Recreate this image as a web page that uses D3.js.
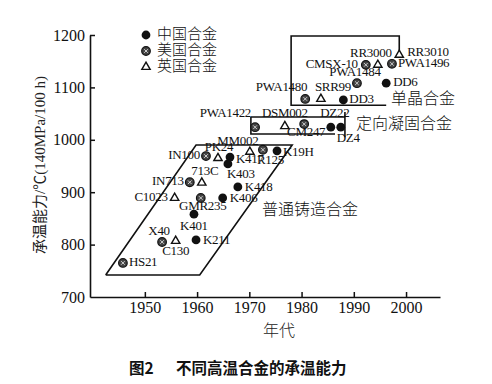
<!DOCTYPE html>
<html><head><meta charset="utf-8">
<script src="https://cdn.jsdelivr.net/npm/d3@7"></script>
<style>body{margin:0;background:#fff}svg{display:block}</style>
</head><body>
<script>
// ---- data ----
const xTicks = [1950, 1960, 1970, 1980, 1990, 2000];
const yTicks = [700, 800, 900, 1000, 1100, 1200];

const cnNames = ["DD3", "DD6", "DZ22", "DZ4", "K19H", "K417", "K403", "K418", "K406", "K401", "K211"];
const cnYears = [1988, 1996.2, 1985.6, 1987.5, 1975.3, 1966.3, 1965.9, 1967.8, 1964.9, 1959.4, 1959.8];
const cnTemps = [1076, 1108, 1024, 1024, 979, 967, 954, 910, 889, 858, 809];

const usNames = ["HS21", "X40", "GMR235", "IN713", "IN100", "R125", "PWA1422", "CM247", "PWA1480", "PWA1484", "CMSX-10", "PWA1496"];
const usYears = [1945.8, 1953.3, 1960.7, 1958.6, 1961.7, 1972.6, 1971.1, 1980.5, 1980.7, 1990.6, 1992.3, 1997.3];
const usTemps = [765, 805, 889, 919, 969, 981, 1024, 1030, 1078, 1108, 1143, 1145];

const ukNames = ["C130", "C1023", "713C", "PK24", "MM002", "DSM002", "SRR99", "RR3000", "RR3010"];
const ukYears = [1955.9, 1955.7, 1960.9, 1964, 1970.1, 1976.8, 1983.7, 1994.6, 1998.7];
const ukTemps = [807, 889, 918, 965, 977, 1026, 1078, 1143, 1162];

const legendLabels = ["中国合金", "美国合金", "英国合金"];
const regionLabels = ["单晶合金", "定向凝固合金", "普通铸造合金"];

// region outlines (data units)
const sxOutline = [[1998.7, 1169], [1998.7, 1198], [1978, 1198], [1978, 1066], [1996.2, 1066]];
const dsOutline = [[1970.3, 1043.5], [1988.3, 1043.5]];
const dsOutline2 = [[1970.3, 1043.5], [1970.3, 1011], [1986.4, 1011]];
const dsRight = [[1988.3, 1053], [1988.3, 1005]];
const ccOutline = [[1942.5, 742], [1960.5, 742], [1978.2, 990], [1959.8, 990], [1942.5, 742]];

// ---- layout ----
const W = 492, H = 384;
const x = d3.scaleLinear().domain([1939.5, 2006.5]).range([90, 440]);
const y = d3.scaleLinear().domain([700, 1200]).range([297, 35]);

const svg = d3.select("body").append("svg").attr("width", W).attr("height", H);
const serif = "'Liberation Serif','Times New Roman','Noto Sans CJK SC',serif";
const cjk = "'Noto Sans CJK SC',sans-serif";

// axes
const xa = svg.append("g").attr("transform", `translate(0,${y(700)})`)
  .call(d3.axisBottom(x).tickValues(xTicks).tickFormat(d3.format("d")).tickSize(-5).tickSizeOuter(0).tickPadding(5));
const ya = svg.append("g").attr("transform", `translate(${x(1939.5)},0)`)
  .call(d3.axisLeft(y).tickValues(yTicks).tickFormat(d3.format("d")).tickSize(-5).tickSizeOuter(0).tickPadding(5));
[xa, ya].forEach(g => {
  g.select(".domain").attr("stroke", "#111").attr("stroke-width", 1.6);
  g.selectAll(".tick line").attr("stroke", "#111").attr("stroke-width", 1.5);
  g.selectAll(".tick text").attr("font-family", serif).attr("font-size", 16).attr("fill", "#111");
});
ya.selectAll(".tick").filter(d => d === 700).select("line").remove();

// axis titles
svg.append("text").attr("transform", "translate(42,165) rotate(-90)")
  .attr("text-anchor", "middle").attr("dominant-baseline", "middle")
  .attr("font-family", serif).attr("font-size", 15).attr("fill", "#222")
  .text("承温能力/℃(140MPa/100 h)");
svg.append("text").attr("x", 279).attr("y", 336).attr("text-anchor", "middle")
  .attr("font-family", cjk).attr("font-weight", 300).attr("font-size", 16).attr("fill", "#222").text("年代");

// caption
const cap = svg.append("text").attr("y", 374).attr("font-family", cjk).attr("font-weight", 700).attr("font-size", 15.5).attr("fill", "#111");
cap.append("tspan").attr("x", 129).text("图2");
cap.append("tspan").attr("x", 176).text("不同高温合金的承温能力");

// region outlines
const line = d3.line().x(d => x(d[0])).y(d => y(d[1]));
[sxOutline, dsOutline, dsOutline2, dsRight, ccOutline].forEach(p =>
  svg.append("path").attr("d", line(p)).attr("fill", "none").attr("stroke", "#111").attr("stroke-width", 1.6));

// region labels
const regPos = [[391, 100], [356, 125], [262, 211]];
regionLabels.forEach((t, i) => svg.append("text").attr("x", regPos[i][0]).attr("y", regPos[i][1])
  .attr("dominant-baseline", "middle").attr("font-family", cjk).attr("font-weight", 300)
  .attr("font-size", 16).attr("fill", "#111").text(t));

// markers
function drawMarker(g, type) {
  if (type === 0) {
    g.append("circle").attr("r", 4.4).attr("fill", "#111");
  } else if (type === 1) {
    g.append("circle").attr("r", 4.3).attr("fill", "#444").attr("stroke", "#111").attr("stroke-width", 1.2);
    g.append("path").attr("d", "M-1.8,-1.8L1.8,1.8M-1.8,1.8L1.8,-1.8").attr("stroke", "#ddd").attr("stroke-width", 0.9);
  } else {
    g.append("path").attr("d", d3.symbol(d3.symbolTriangle, 30)()).attr("fill", "#fff")
      .attr("stroke", "#111").attr("stroke-width", 1.4);
  }
}

// label offsets: [anchor, dx, dy]
const lab = {
  "HS21": ["start", 6, 0], "X40": ["middle", -3, -10], "C130": ["middle", 0, 11], "K211": ["start", 7, 1],
  "K401": ["middle", 0, 13], "GMR235": ["middle", 2, 9], "C1023": ["end", -7, 0], "K406": ["start", 7, 1],
  "K418": ["start", 7, 1], "IN713": ["end", -6, 0], "713C": ["middle", 3, -11], "K403": ["start", -1, 11],
  "IN100": ["end", -6, 0], "PK24": ["middle", 1, -10], "K417": ["start", 6, 3], "R125": ["start", -6, 11],
  "MM002": ["middle", -12, -10], "K19H": ["start", 6, 2], "PWA1422": ["end", -4, -13], "DSM002": ["middle", 0, -12],
  "DZ22": ["middle", 4, -13], "CM247": ["middle", 2, 9], "DZ4": ["start", -4, 12], "PWA1480": ["end", 2, -11],
  "SRR99": ["start", -6, -11], "DD3": ["start", 6, 0], "PWA1484": ["middle", -2, -10], "DD6": ["start", 7, 0],
  "CMSX-10": ["end", -8, 0], "RR3000": ["middle", -7, -11], "RR3010": ["start", 8, -2], "PWA1496": ["start", 6, 0]
};

const series = [[cnNames, cnYears, cnTemps, 0], [usNames, usYears, usTemps, 1], [ukNames, ukYears, ukTemps, 2]];
const labG = svg.append("g");
series.forEach(([names, yrs, tmps, type]) => {
  names.forEach((n, i) => {
    const px = x(yrs[i]), py = y(tmps[i]);
    drawMarker(svg.append("g").attr("transform", `translate(${px},${py})`), type);
    const o = lab[n];
    labG.append("text").attr("x", px + o[1]).attr("y", py + o[2]).attr("text-anchor", o[0])
      .attr("dominant-baseline", "middle").attr("font-family", serif).attr("font-size", 13)
      .attr("letter-spacing", -0.3).attr("fill", "#111").text(n);
  });
});

// legend
legendLabels.forEach((t, i) => {
  const ly = 35 + i * 16;
  drawMarker(svg.append("g").attr("transform", `translate(146,${ly})`), i);
  svg.append("text").attr("x", 157).attr("y", ly).attr("dominant-baseline", "middle")
    .attr("font-family", cjk).attr("font-weight", 300).attr("font-size", 15).attr("fill", "#111").text(t);
});
</script>
</body></html>
